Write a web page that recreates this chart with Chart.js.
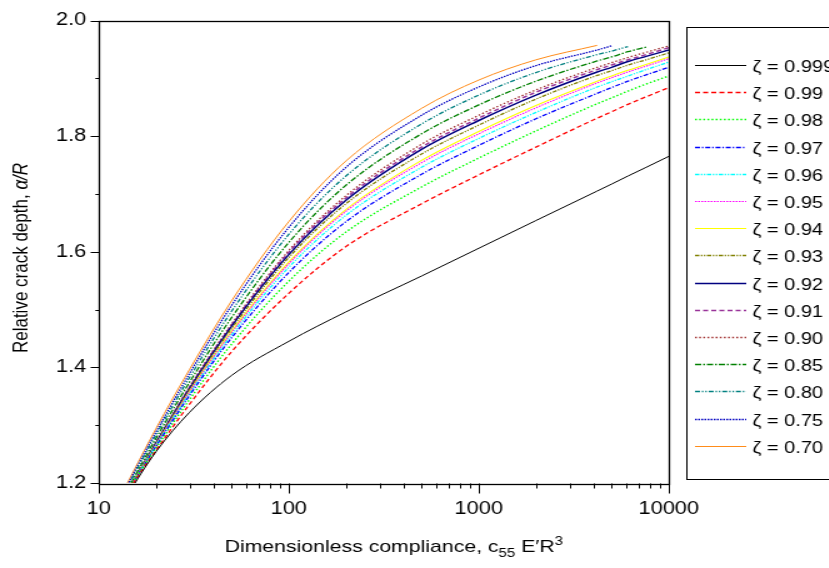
<!DOCTYPE html>
<html>
<head>
<meta charset="utf-8">
<script src="https://cdn.jsdelivr.net/npm/chart.js@4.4.1/dist/chart.umd.min.js"></script>
<style>
  html, body { margin: 0; padding: 0; background: #fff; overflow: hidden; }
  /* the source figure is stretched sideways: draw narrow, then widen */
  #stretch { width: 663px; height: 568px; transform: scaleX(1.25); transform-origin: 0 0; }
</style>
</head>
<body>
<div id="stretch"><canvas id="crackChart" width="663" height="568"></canvas></div>
<script>
// dimensionless compliance c55 E'R^3 (x, log axis)
var compliance = [14, 15, 20, 30, 50, 100, 200, 500, 1000, 2000, 4200, 5000, 6100, 7600, 10000];

// relative crack depth a/R for each zeta (null = curve stopped)
var z0999 = [1.175, 1.192, 1.254, 1.322, 1.386, 1.445, 1.496, 1.558, 1.606, 1.654, 1.705, 1.717, 1.731, 1.746, 1.765];
var z099  = [1.178, 1.196, 1.256, 1.336, 1.427, 1.528, 1.609, 1.683, 1.733, 1.781, 1.831, 1.842, 1.855, 1.868, 1.884];
var z098  = [1.179, 1.197, 1.260, 1.344, 1.440, 1.549, 1.634, 1.712, 1.762, 1.809, 1.856, 1.866, 1.878, 1.890, 1.904];
var z097  = [1.179, 1.197, 1.263, 1.351, 1.451, 1.564, 1.652, 1.734, 1.784, 1.830, 1.874, 1.884, 1.895, 1.906, 1.919];
var z096  = [1.179, 1.197, 1.265, 1.354, 1.456, 1.573, 1.663, 1.746, 1.796, 1.841, 1.885, 1.894, 1.904, 1.915, 1.928];
var z095  = [1.179, 1.197, 1.266, 1.357, 1.460, 1.579, 1.670, 1.754, 1.804, 1.849, 1.892, 1.901, 1.911, 1.921, 1.934];
var z094  = [1.180, 1.198, 1.266, 1.358, 1.462, 1.582, 1.673, 1.758, 1.808, 1.853, 1.895, 1.904, 1.914, 1.924, 1.937];
var z093  = [1.180, 1.198, 1.268, 1.361, 1.467, 1.590, 1.683, 1.769, 1.819, 1.864, 1.905, 1.913, 1.923, 1.932, 1.944];
var z092  = [1.180, 1.198, 1.269, 1.363, 1.471, 1.595, 1.689, 1.777, 1.827, 1.871, 1.911, 1.919, 1.929, 1.938, 1.949];
var z091  = [1.180, 1.198, 1.269, 1.365, 1.473, 1.599, 1.693, 1.781, 1.831, 1.876, 1.915, 1.923, 1.932, 1.941, 1.953];
var z090  = [1.180, 1.198, 1.270, 1.366, 1.475, 1.602, 1.697, 1.786, 1.836, 1.880, 1.919, 1.927, 1.936, 1.945, 1.956];
var z085  = [1.184, 1.203, 1.277, 1.374, 1.486, 1.616, 1.715, 1.804, 1.854, 1.895, 1.930, 1.937, 1.946, 1.954, null];
var z080  = [1.189, 1.208, 1.283, 1.382, 1.497, 1.630, 1.731, 1.821, 1.871, 1.910, 1.941, 1.947, 1.955, null, null];
var z075  = [1.193, 1.212, 1.288, 1.389, 1.507, 1.642, 1.746, 1.836, 1.885, 1.922, 1.949, 1.956, null, null, null];
var z070  = [1.197, 1.216, 1.294, 1.396, 1.515, 1.652, 1.757, 1.848, 1.897, 1.932, 1.957, null, null, null, null];

var seriesLabels = ["ζ = 0.999", "ζ = 0.99", "ζ = 0.98", "ζ = 0.97", "ζ = 0.96", "ζ = 0.95", "ζ = 0.94",
  "ζ = 0.93", "ζ = 0.92", "ζ = 0.91", "ζ = 0.90", "ζ = 0.85", "ζ = 0.80", "ζ = 0.75", "ζ = 0.70"];
var seriesValues = [z0999, z099, z098, z097, z096, z095, z094, z093, z092, z091, z090, z085, z080, z075, z070];

var xTickLabels = [10, 100, 1000, 10000];
var yTickLabels = [1.2, 1.4, 1.6, 1.8, 2.0];

var lineStyles = [
  { color: '#000000', dash: [], width: 1 },
  { color: '#ff0000', dash: [4, 2.5], width: 1.3 },
  { color: '#00ff00', dash: [1.5, 1.8], width: 1.4 },
  { color: '#0000ff', dash: [4, 1.5, 1.2, 1.5], width: 1.3 },
  { color: '#00ffff', dash: [3.5, 1.2, 1.2, 1.2, 1.2, 1.2], width: 1.3 },
  { color: '#ff00ff', dash: [1.5, 1], width: 1.1 },
  { color: '#ffff00', dash: [], width: 1.1 },
  { color: '#808000', dash: [3.5, 1.2, 1.2, 1.2, 1.2, 1.2], width: 1.3 },
  { color: '#000080', dash: [], width: 1.5 },
  { color: '#993399', dash: [4, 2.5], width: 1.5 },
  { color: '#a03030', dash: [1.5, 1.8], width: 1.3 },
  { color: '#008000', dash: [5, 1.5, 1.5, 1.5], width: 1.3 },
  { color: '#008080', dash: [4, 1.5, 1.2, 1.5, 1.2, 1.5], width: 1.3 },
  { color: '#0000c0', dash: [1.5, 1], width: 1.3 },
  { color: '#ff8c1a', dash: [], width: 1 }
];

var FONT = '"Liberation Sans", Arial, sans-serif';

var datasets = seriesValues.map(function (vals, i) {
  var st = lineStyles[i];
  var pts = [];
  vals.forEach(function (v, j) { if (v !== null) pts.push({ x: compliance[j], y: v }); });
  return {
    label: seriesLabels[i],
    data: pts,
    borderColor: st.color,
    borderDash: st.dash,
    borderWidth: st.width,
    pointRadius: 0,
    fill: false,
    cubicInterpolationMode: 'monotone'
  };
});

// frame, tick marks, axis titles and the boxed legend
var decorations = {
  id: 'decorations',
  afterDraw: function (chart) {
    var c = chart.ctx, a = chart.chartArea;
    var xs = chart.scales.x, ys = chart.scales.y;
    c.save();
    c.strokeStyle = '#000';
    c.lineWidth = 1.3;
    c.setLineDash([]);
    c.strokeRect(Math.round(a.left) + 0.5, Math.round(a.top) + 0.5,
      Math.round(a.right - a.left), Math.round(a.bottom - a.top));
    c.lineWidth = 1;

    // y ticks (major every 0.2, minor in between)
    for (var k = 12; k <= 20; k++) {
      var py = Math.round(ys.getPixelForValue(k / 10)) + 0.5;
      var len = (k % 2 === 0) ? 7 : 3.2;
      c.beginPath();
      c.moveTo(Math.round(a.left) + 0.5, py);
      c.lineTo(Math.round(a.left) + 0.5 - len, py);
      c.stroke();
    }
    // x ticks (decades long, 2..9 short)
    for (var d = 10; d <= 10000; d *= 10) {
      for (var m = 1; m <= 9; m++) {
        var v = d * m;
        if (v > 10000) break;
        var px = Math.round(xs.getPixelForValue(v)) + 0.5;
        var l2 = (m === 1) ? 10 : 5;
        c.beginPath();
        c.moveTo(px, Math.round(a.bottom) + 0.5);
        c.lineTo(px, Math.round(a.bottom) + 0.5 + l2);
        c.stroke();
      }
    }

    // x title
    c.fillStyle = '#000';
    c.textBaseline = 'alphabetic';
    c.textAlign = 'left';
    var big = '17px ' + FONT, small = '12px ' + FONT;
    var parts = [
      { t: 'Dimensionless compliance, c', f: big, dy: 0 },
      { t: '55', f: small, dy: 5 },
      { t: ' E\u2032R', f: big, dy: 0 },
      { t: '3', f: small, dy: -7 }
    ];
    var total = 0;
    parts.forEach(function (p) { c.font = p.f; p.w = c.measureText(p.t).width; total += p.w; });
    var x0 = 315 - total / 2, base = 552;
    parts.forEach(function (p) { c.font = p.f; c.fillText(p.t, x0, base + p.dy); x0 += p.w; });

    // y title
    c.save();
    c.translate(22, 258);
    c.rotate(-Math.PI / 2);
    var yparts = [
      { t: 'Relative crack depth, ', f: big },
      { t: '\u03b1/R', f: 'italic 17px ' + FONT }
    ];
    var tw = 0;
    yparts.forEach(function (p) { c.font = p.f; p.w = c.measureText(p.t).width; tw += p.w; });
    var yx = -tw / 2;
    yparts.forEach(function (p) { c.font = p.f; c.fillText(p.t, yx, 0); yx += p.w; });
    c.restore();

    // legend box
    c.strokeRect(549.5, 27.5, 200, 452);
    chart.data.datasets.forEach(function (ds, i) {
      var ly = Math.round(65 + i * 27.2) + 0.5;
      c.strokeStyle = ds.borderColor;
      c.lineWidth = ds.borderWidth;
      c.setLineDash(ds.borderDash);
      c.beginPath();
      c.moveTo(556, ly);
      c.lineTo(597, ly);
      c.stroke();
      c.setLineDash([]);
      c.fillStyle = '#000';
      c.font = '16px ' + FONT;
      c.fillText(ds.label, 602, ly + 6);
    });
    c.restore();
  }
};

var ctx = document.getElementById('crackChart').getContext('2d');
var crackChart = new Chart(ctx, {
  type: 'line',
  data: { datasets: datasets },
  options: {
    responsive: false,
    animation: false,
    devicePixelRatio: 1,
    layout: { padding: { left: 0, top: 20, right: 128, bottom: 0 } },
    plugins: {
      legend: { display: false },
      tooltip: { enabled: false }
    },
    scales: {
      x: {
        type: 'logarithmic',
        min: 10,
        max: 10000,
        grid: { display: false, drawTicks: false },
        border: { display: false },
        afterBuildTicks: function (scale) {
          scale.ticks = xTickLabels.map(function (v) { return { value: v, major: true }; });
        },
        afterFit: function (scale) { scale.height = 85; },
        ticks: {
          padding: 16,
          autoSkip: false,
          maxRotation: 0,
          color: '#000',
          font: { family: FONT, size: 17.5 },
          callback: function (v) { return String(v); }
        }
      },
      y: {
        min: 1.2,
        max: 2.0,
        grid: { display: false, drawTicks: false },
        border: { display: false },
        afterBuildTicks: function (scale) {
          scale.ticks = yTickLabels.map(function (v) { return { value: v }; });
        },
        afterFit: function (scale) { scale.width = 79; },
        ticks: {
          padding: 10,
          color: '#000',
          font: { family: FONT, size: 17.5 },
          callback: function (v) { return Number(v).toFixed(1); }
        }
      }
    }
  },
  plugins: [decorations]
});
</script>
</body>
</html>
